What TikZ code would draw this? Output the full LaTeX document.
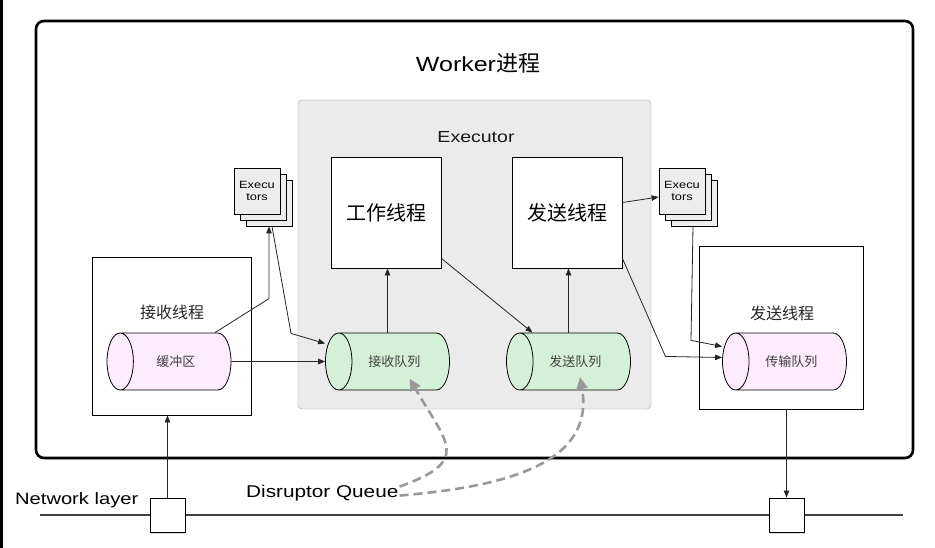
\documentclass[tikz,border=0pt]{standalone}
\usepackage{fontspec}
\setmainfont[FakeStretch=1.22]{Liberation Sans}
\newfontfamily\cjk{Noto Sans CJK SC}
\usetikzlibrary{calc}
\usetikzlibrary{arrows.meta}
\usetikzlibrary{shapes.geometric}
\usetikzlibrary{shadows}
\definecolor{qgreen}{HTML}{D5F0D8}
\definecolor{qpink}{HTML}{FCECFC}
\definecolor{execgray}{HTML}{EBEBEB}

\begin{document}
\begin{tikzpicture} [x=1pt, y=-1pt,
 box/.style={draw=black, fill=white, line width=.9pt, inner sep=0},
 queue/.style={cylinder, shape border rotate=180, aspect=2.2, draw=black, line width=.8pt,
   cylinder uses custom fill, cylinder body fill=#1, cylinder end fill=#1,
   minimum width=57pt, minimum height=124pt, inner sep=0, text=black!75,
   anchor=shape center, font=\cjk\fontsize{13}{15}\selectfont},
 stack/.style={draw=black, fill=black!7, line width=.8pt, minimum size=46pt, inner sep=0,
   align=center, font=\fontsize{10.5}{12}\selectfont},
 link/.style={draw=black!85, line width=.8pt, -{Triangle[length=7pt,width=5.5pt]}},
 disr/.style={draw=black!40, line width=2.6pt, dash pattern=on 9pt off 5pt,
   -{Triangle[length=12pt,width=11pt]}}
]
\useasboundingbox (0,0) rectangle (935,548);
\draw[line width=3pt] (1.5,0) -- (1.5,548);
\node[draw=black, fill=white, line width=2.6pt, rounded corners=8pt, minimum width=877pt, minimum height=437pt,
  drop shadow={shadow xshift=1pt, shadow yshift=-1.5pt, opacity=.3}] (worker) at (474.5,239.5) {};
\node[font=\fontsize{20.5}{24}\selectfont] (title) at (478,63) {Worker{\cjk\fontsize{22}{24}\selectfont 进程}};

\node[draw=black!35, fill=execgray, rounded corners=4pt, minimum width=353pt, minimum height=309pt] (executor) at (474.5,254.5) {};
\node[font=\fontsize{16}{18}\selectfont, text=black!90] (execlabel) at (476,137) {Executor};
\node[box, minimum width=110pt, minimum height=111pt, font=\cjk\fontsize{20}{22}\selectfont] (work) at (386,212.5) {工作线程};
\node[box, minimum width=110pt, minimum height=111pt, font=\cjk\fontsize{20}{22}\selectfont] (send) at (567,212.5) {发送线程};
\node[queue=qgreen] (recvq) at (387.5,361.5) {接收队列};
\node[queue=qgreen] (sendq) at (568.5,361.5) {发送队列};

\node[box, minimum width=159pt, minimum height=158pt] (recvbox) at (171.5,336) {};
\node[font=\cjk\fontsize{16}{18}\selectfont, text=black!85] (recvlabel) at (172,312) {接收线程};
\node[queue=qpink] (buffer) at (169,361.5) {缓冲区};
\node[box, minimum width=164pt, minimum height=163pt] (sendbox) at (781,327.5) {};
\node[font=\cjk\fontsize{16}{18}\selectfont, text=black!85] (sendlabel) at (782,313) {发送线程};
\node[queue=qpink] (transq) at (784.5,361.5) {传输队列};

\foreach \n/\x in {l/257, r/682} {
 \node[stack] (exec\n3) at (\x+12,203) {};
 \node[stack] (exec\n2) at (\x+6,197) {};
 \node[stack] (exec\n) at (\x,191) {Execu\\tors};
}

\coordinate (netstart) at (40,515);
\coordinate (netend) at (903,515);
\draw[black!75, line width=1.4pt] (netstart) -- (netend);
\foreach \n/\x in {l/167.5, r/786.5}
 \node[box, minimum width=35pt, minimum height=34pt,
   drop shadow={shadow xshift=1pt, shadow yshift=-1.5pt, opacity=.3}] (net\n) at (\x,515) {};
\node[anchor=base west, inner sep=1pt, font=\fontsize{16.5}{18}\selectfont] (netlabel) at (14,504) {Network layer};
\node[anchor=base west, inner sep=1pt, font=\fontsize{17}{19}\selectfont] (dq) at (245,497) {Disruptor Queue};

\draw[link] (buffer.east) -- (recvq.west);
\draw[link] ($(buffer.north -| buffer.shape center)+(46,0)$) -- ++(54,-34) -- (execl3.south);
\draw[link] ([xshift=3pt]execl3.south) -- ++(19,107) -- ([yshift=18pt]recvq.west);
\draw[link] (recvq.north -| recvq.shape center) -- (recvq.shape center |- work.south);
\draw[link] ([yshift=10pt]work.south east) -- ($(sendq.north -| sendq.shape center)+(-36,0)$);
\draw[link] (sendq.north -| sendq.shape center) -- (sendq.shape center |- send.south);
\draw[link] ([yshift=10pt]send.east) -- ([yshift=-6pt]execr.west);
\draw[link] ([yshift=10pt]send.south east) -- ++(43,98) -- ([yshift=4pt]transq.west);
\draw[link] ([xshift=-1pt]execr3.south) -- ++(-2,114) -- ([yshift=15pt]transq.west);
\draw[link] (netl.north) -- (netl.north |- recvbox.south);
\draw[link] (netr.north |- sendbox.south) -- (netr.north);

\draw[disr] ([yshift=6pt]dq.east) to[out=20, in=-60, looseness=1.8] ([xshift=22pt, yshift=-17pt]recvq.shape center);
\draw[disr] ([yshift=-3pt]dq.east) to[out=5, in=-80, looseness=1.1] ([xshift=11.5pt, yshift=-15.5pt]sendq.shape center);
\end{tikzpicture}
\end{document}
